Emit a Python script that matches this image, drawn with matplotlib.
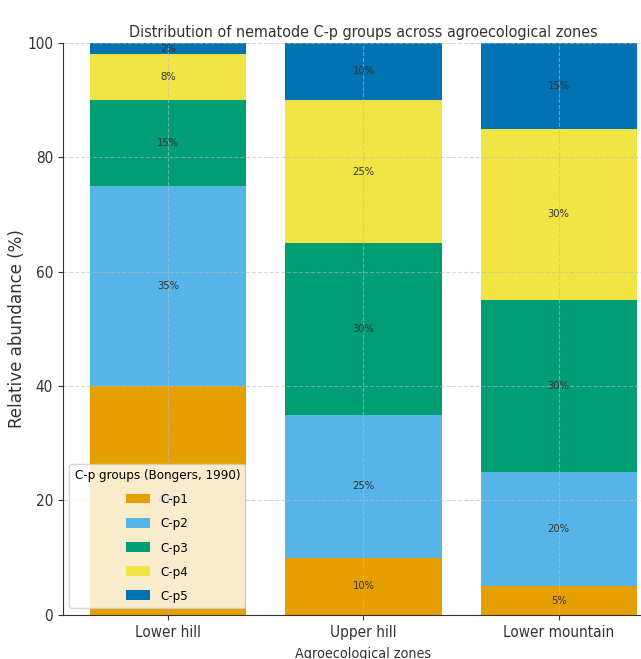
import matplotlib.pyplot as plt
import numpy as np

zones = ['Lower hill', 'Upper hill', 'Lower mountain']
groups = ['C-p1', 'C-p2', 'C-p3', 'C-p4', 'C-p5']
cp1 = [40, 10, 5]
cp2 = [35, 25, 20]
cp3 = [15, 30, 30]
cp4 = [8, 25, 30]
cp5 = [2, 10, 15]
colors = ['#E69F00', '#56B4E9', '#009E73', '#F0E442', '#0072B2']

series = [cp1, cp2, cp3, cp4, cp5]

plt.rcParams['font.family'] = ['DejaVu Sans']
plt.rcParams['font.stretch'] = 'condensed'

fig = plt.figure(figsize=(6.41, 6.59), dpi=100)
ax = fig.add_axes([0.098, 0.067, 0.938, 0.868])

x = np.arange(len(zones))
bottom = np.zeros(len(zones))
for name, vals, c in zip(groups, series, colors):
    vals = np.array(vals, dtype=float)
    ax.bar(x, vals, 0.8, bottom=bottom, color=c, label=name, zorder=1)
    for xi, b, v in zip(x, bottom, vals):
        if v > 0:
            ax.text(xi, b + v / 2, f'{int(v)}%', ha='center', va='center',
                    fontsize=8, color='#333333', zorder=3)
    bottom += vals

ax.set_xticks(x)
ax.set_xticklabels(zones, fontsize=11, color='#333333')
ax.tick_params(axis='y', labelsize=11, labelcolor='#333333')
ax.tick_params(colors='#333333')
ax.set_ylim(0, 100)
ax.set_xlim(-0.54, 2.54)
ax.set_ylabel('Relative abundance (%)', fontsize=13.3, color='#333333')
ax.yaxis.set_label_coords(-0.062, 0.5)
ax.set_xlabel('Agroecological zones', fontsize=10.3, color='#333333', labelpad=5)
ax.set_title('Distribution of nematode C-p groups across agroecological zones',
             fontsize=11.5, color='#333333', pad=4)
ax.grid(True, linestyle='--', color='#bbbbbb', alpha=0.6, linewidth=0.8, zorder=2)
for s in ['top', 'right']:
    ax.spines[s].set_visible(False)
ax.spines['left'].set_color('#333333')
ax.spines['bottom'].set_color('#333333')

leg = ax.legend(title='C-p groups (Bongers, 1990)', loc='lower left',
                fontsize=9.5, title_fontsize=9.5, labelspacing=0.85,
                handlelength=1.8, handleheight=0.76)
leg.set_zorder(5)

fig.savefig('out.png', dpi=100)
